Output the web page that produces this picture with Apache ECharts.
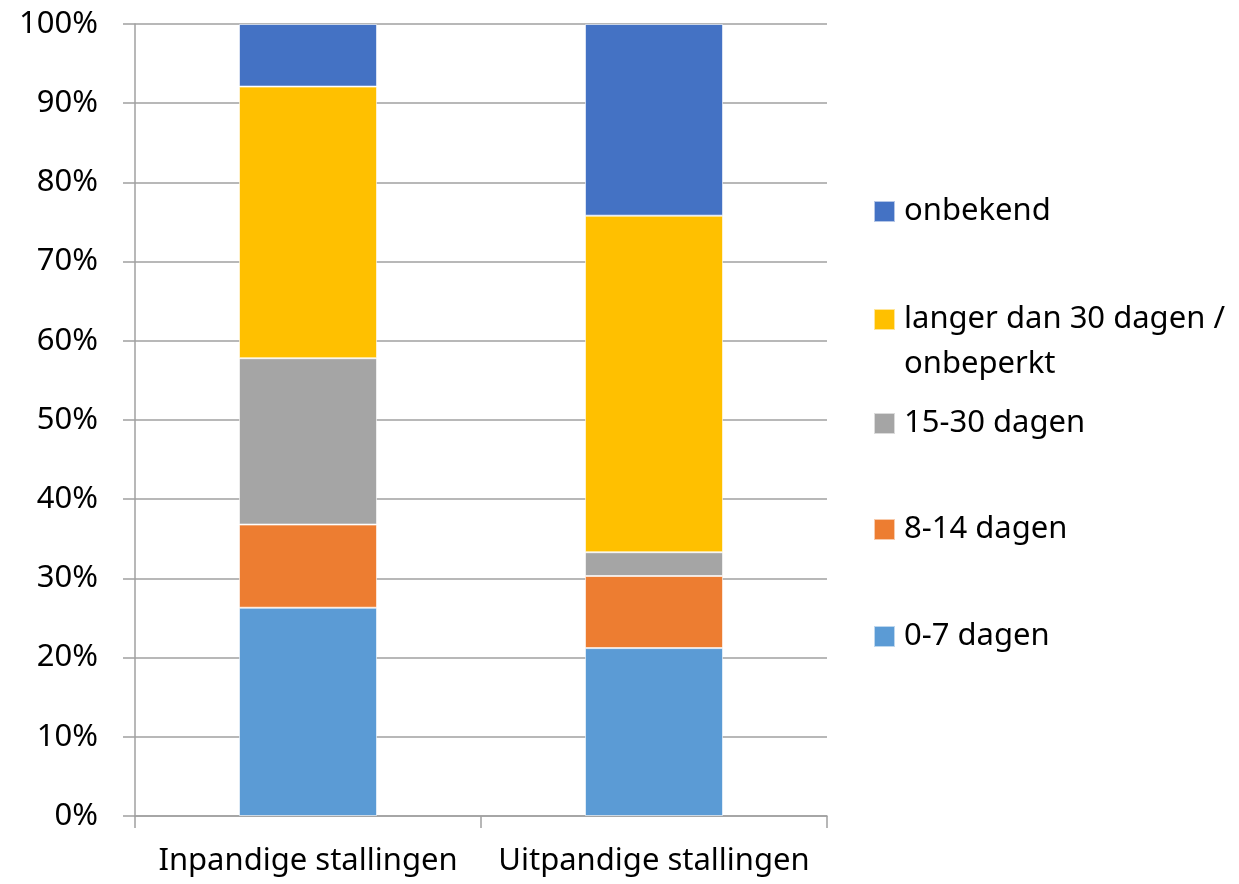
<!DOCTYPE html>
<html>
<head>
<meta charset="utf-8">
<script src="https://cdn.jsdelivr.net/npm/echarts@6/dist/echarts.min.js"></script>
<style>
    html, body { margin: 0; padding: 0; background: #fff; }
    #chart-container { width: 1239px; height: 884px; }
</style>
</head>
<body>
<div id="chart-container"></div>
<script>
const categories = ['Inpandige stallingen', 'Uitpandige stallingen'];
const seriesNames = ['0-7 dagen', '8-14 dagen', '15-30 dagen', 'langer dan 30 dagen /\nonbeperkt', 'onbekend'];
const dagen0tot7 = [26.3, 21.2];
const dagen8tot14 = [10.5, 9.1];
const dagen15tot30 = [21.0, 3.0];
const langerDan30 = [34.3, 42.5];
const onbekend = [7.9, 24.2];
const yTicks = [0, 10, 20, 30, 40, 50, 60, 70, 80, 90, 100];
const colors = ['#5b9bd5', '#ed7d31', '#a5a5a5', '#ffc000', '#4472c4'];

const chartCanvas = document.querySelector('#chart-container');
const chart = echarts.init(chartCanvas, null, {renderer: 'canvas'});
const fontFamily = '"Noto Sans", "Open Sans", sans-serif';

const values = [dagen0tot7, dagen8tot14, dagen15tot30, langerDan30, onbekend];

// legend top-to-bottom is the reverse of the stack, one legend per item so the spacing matches
const legendTops = [614, 507, 401, 296, 189];

const legends = seriesNames.map((name, i) => {
    const twoLines = name.includes('\n');
    return {
        left: 873,
        top: legendTops[i],
        padding: 0,
        orient: 'vertical',
        itemWidth: 21,
        itemHeight: twoLines ? 90 : 21,
        // for the two-line label the square sits next to the first line
        icon: twoLines ? 'path://M0,12L21,12L21,33L0,33Z M0,0 M0,90' : 'rect',
        textStyle: {
            color: '#000',
            fontFamily: fontFamily,
            fontSize: 31,
            lineHeight: 45,
            padding: [0, 0, 0, 4]
        },
        data: [name]
    };
});

const chartOptions = {
    animation: false,
    color: colors,
    legend: legends,
    grid: {
        left: 135,
        right: 412,
        top: 24,
        bottom: 68,
        containLabel: false
    },
    xAxis: {
        type: 'category',
        data: categories,
        boundaryGap: true,
        axisLine: { show: true, lineStyle: { color: '#a0a0a0', width: 1.5 } },
        axisTick: { show: true, interval: 0, length: 12, alignWithLabel: false, lineStyle: { color: '#a0a0a0', width: 1.5 } },
        axisLabel: {
            interval: 0,
            hideOverlap: false,
            color: '#000',
            fontFamily: fontFamily,
            fontSize: 31,
            margin: 30
        }
    },
    yAxis: {
        type: 'value',
        min: yTicks[0],
        max: yTicks[yTicks.length - 1],
        interval: 10,
        axisLine: { show: true, lineStyle: { color: '#a0a0a0', width: 1.5 } },
        axisTick: { show: true, length: 12, lineStyle: { color: '#a0a0a0', width: 1.5 } },
        axisLabel: {
            color: '#000',
            fontFamily: fontFamily,
            fontSize: 31,
            margin: 37,
            formatter: '{value}%'
        },
        splitLine: {
            show: true,
            lineStyle: { color: '#a0a0a0', width: 1.5 }
        }
    },
    series: seriesNames.map((name, i) => ({
        name: name,
        type: 'bar',
        stack: 'totaal',
        barWidth: 138,
        data: values[i],
        itemStyle: {
            color: colors[i],
            borderColor: 'rgba(255,255,255,0.6)',
            borderWidth: 1
        }
    }))
};

chart.setOption(chartOptions);
window.addEventListener('resize', chart.resize);
</script>
</body>
</html>
